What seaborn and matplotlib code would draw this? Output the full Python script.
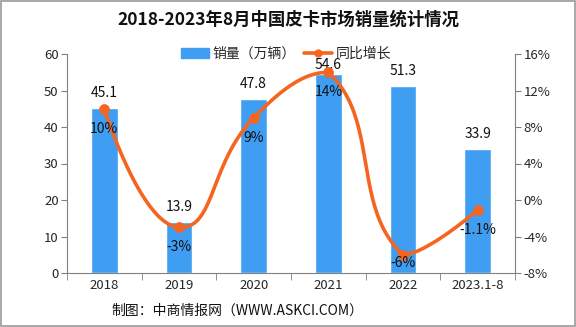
import numpy as np
import pandas as pd
import matplotlib
matplotlib.use("Agg")
import matplotlib.pyplot as plt
import seaborn as sns
from matplotlib.patches import Patch
from matplotlib.lines import Line2D

categories = ["2018", "2019", "2020", "2021", "2022", "2023.1-8"]
sales = [45.1, 13.9, 47.8, 54.6, 51.3, 33.9]
growth = [10, -3, 9, 14, -6, -1.1]
growth_labels = ["10%", "-3%", "9%", "14%", "-6%", "-1.1%"]
left_ticks = [0, 10, 20, 30, 40, 50, 60]
right_ticks = [-8, -4, 0, 4, 8, 12, 16]

sns.set_style("white")
plt.rcParams['font.family'] = ['Noto Sans CJK SC', 'DejaVu Sans']

BAR = "#3f9ef2"
LINE = "#f4661f"

fig = plt.figure(figsize=(5.76, 3.27), dpi=100)
ax = fig.add_axes([67/576, 1-273/327, (515-67)/576, (273-54)/327])
df = pd.DataFrame({"cat": categories, "sales": sales})
sns.barplot(data=df, x="cat", y="sales", ax=ax, color=BAR, width=0.36, saturation=1)
ax.set_xlim(-0.5, 5.5)
ax.set_ylim(0, 60)
ax.set_yticks(left_ticks)
ax.set_xlabel("")
ax.set_ylabel("")
for s in ["top", "right"]:
    ax.spines[s].set_visible(False)
for s in ["left", "bottom"]:
    ax.spines[s].set_color("#808080")
ax.tick_params(axis="y", length=4, color="#808080", labelsize=9.5, left=True, pad=2)
ax.tick_params(axis="x", length=0, labelsize=9.5, pad=4)
ax.set_xticks(np.arange(-0.5, 6, 1), minor=True)
ax.tick_params(axis="x", which="minor", length=5, color="#808080", bottom=True)

for i, v in enumerate(sales):
    ax.text(i, min(v + 4.1, 57.0), f"{v}", ha="center", va="center", fontsize=10,
            color="#111111", zorder=6)

ax2 = ax.twinx()
ax2.set_ylim(-8, 16)
ax2.set_yticks(right_ticks)
ax2.set_yticklabels([f"{t}%" for t in right_ticks])
for s in ["top", "left", "bottom"]:
    ax2.spines[s].set_visible(False)
ax2.spines["right"].set_color("#808080")
ax2.tick_params(axis="y", length=4, color="#808080", labelsize=9.5, right=True, pad=2)

# ECharts-style smooth bezier (smooth=0.5) computed in pixel-like units
SX, SY = 74.67, 9.125
P = np.column_stack([np.arange(len(growth)) * SX, np.array(growth, float) * SY])
n = len(P)
lo, hi = P.min(axis=0), P.max(axis=0)
cps = []
for i in range(n):
    if i == 0 or i == n - 1:
        cps.append(P[i].copy())
        continue
    prev, nxt = P[i-1], P[i+1]
    v = (nxt - prev) * 0.5
    d0 = np.linalg.norm(P[i] - prev); d1 = np.linalg.norm(P[i] - nxt)
    s = d0 + d1
    c0 = np.clip(P[i] - v * d0 / s, lo, hi)
    c1 = np.clip(P[i] + v * d1 / s, lo, hi)
    cps.append(c0); cps.append(c1)
xs, ys = [], []
t = np.linspace(0, 1, 50)[:, None]
for i in range(n - 1):
    a, d = P[i], P[i+1]
    b, c = cps[2*i], cps[2*i+1]
    B = (1-t)**3*a + 3*(1-t)**2*t*b + 3*(1-t)*t**2*c + t**3*d
    xs.extend(B[:, 0] / SX); ys.extend(B[:, 1] / SY)
ax2.plot(xs, ys, color=LINE, lw=2.6, solid_capstyle="round", zorder=3)
sns.scatterplot(x=np.arange(n), y=growth, ax=ax2, color=LINE, s=50, edgecolor=LINE, zorder=4, legend=False)
for i, (v, lab) in enumerate(zip(growth, growth_labels)):
    ax2.text(i, max(v - 2.2, -6.9), lab, ha="center", va="center", fontsize=10,
             color="#111111", zorder=5)
ax2.set_ylabel("")

handles = [Patch(color=BAR, label="销量（万辆）"),
           Line2D([0], [0], color=LINE, lw=2.6, marker="o", ms=5, label="同比增长")]
fig.legend(handles=handles, loc="center", bbox_to_anchor=(0.497, 1-54/327), ncol=2,
           frameon=False, fontsize=10, handlelength=2.0, handleheight=0.75,
           columnspacing=0.6, handletextpad=0.3, borderpad=0)

fig.text(0.5, 1-20/327, "2018-2023年8月中国皮卡市场销量统计情况", ha="center", va="center",
         fontsize=12.5, fontweight="bold", color="#111111")
fig.text(111/576, 1-311/327, "制图：中商情报网（WWW.ASKCI.COM）", ha="left", va="center",
         fontsize=10, color="#111111")

fig.patches.append(plt.Rectangle((0.001, 0.002), 0.997, 0.995, transform=fig.transFigure,
                                 fill=False, edgecolor="#999999", lw=1.2))
fig.savefig("out.png", dpi=100)
